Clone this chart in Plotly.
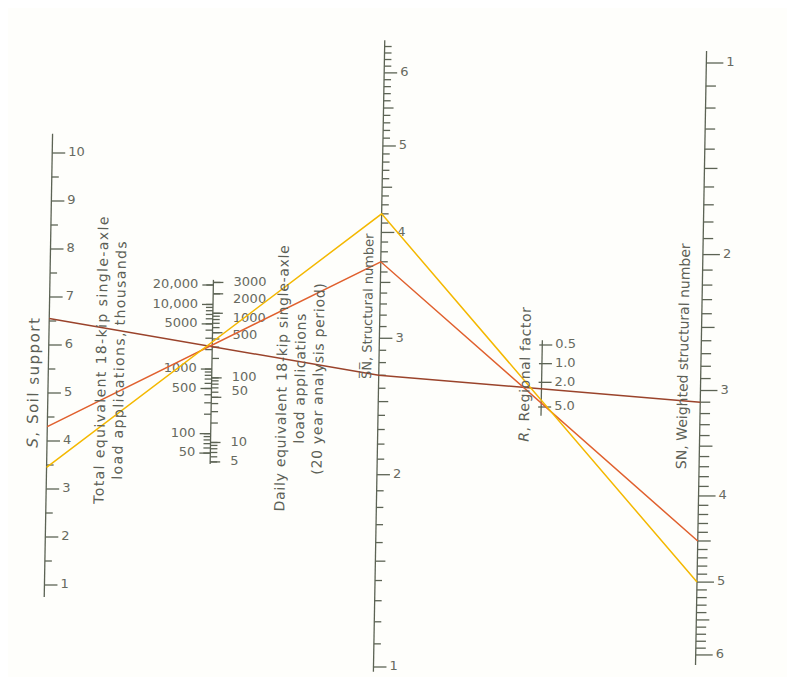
import numpy as np
import plotly.graph_objects as go

# ---- scale readings -------------------------------------------------------
S_MAJOR = [1, 2, 3, 4, 5, 6, 7, 8, 9, 10]
S_MINOR = [1.5, 2.5, 3.5, 4.5, 5.5, 6.5, 7.5, 8.5, 9.5]
S_RANGE = [0.75, 10.4]

TOTAL_LABELS = [20000, 10000, 5000, 1000, 500, 100, 50]
TOTAL_TEXT = ["20,000", "10,000", "5000", "1000", "500", "100", "50"]
DAILY_LABELS = [3000, 2000, 1000, 500, 100, 50, 10, 5]
DAILY_TEXT = ["3000", "2000", "1000", "500", "100", "50", "10", "5"]
TOTAL_RANGE = [34, 24000]

SN_MAJOR = [1, 2, 3, 4, 5, 6]
SN_RANGE = [0.98, 6.5]
WSN_MAJOR = [1, 2, 3, 4, 5, 6]
WSN_RANGE = [0.95, 6.15]

R_LABELS = [0.5, 1.0, 2.0, 5.0]
R_TEXT = ["0.5", "1.0", "2.0", "5.0"]
R_RANGE = [0.42, 6.9]

# solution lines: soil support -> structural number -> weighted SN
LINE_NAMES = ["brown", "red", "yellow"]
LINE_S = [6.55, 4.3, 3.45]
LINE_SN = [2.7, 3.7, 4.2]
LINE_WSN = [3.1, 4.5, 5.0]
LINE_COLORS = ["#9a432b", "#e0602e", "#f4b800"]

# ---- layout of the nomograph (page pixels) --------------------------------
W, H = 795, 677
PAGE_PAD = 8       # browser body margin around the plot div
SHEAR = 0.018      # scan is tilted by about one degree
YC = 360

AX_S, AX_T, AX_SN, AX_R, AX_WSN = 48.5, 212, 379, 542, 701

# the daily labels are spread a little so they do not collide
DAILY_NUDGE = {2000: 6, 1000: 5, 500: 3, 50: -6}


def sheared(x, y):
    return x + (YC - y) * SHEAR


def y_s(v):
    return 585 - (np.asarray(v, float) - 1) * 48


def y_total(v):
    return 285 + (np.log10(20000) - np.log10(np.asarray(v, float))) * 64.6


def y_daily(v):
    # daily over a 20 year period -> total, thousands
    return y_total(np.asarray(v, float) * 365 * 20 / 1000)


def y_sn(v):
    return 667 - (np.log10(np.asarray(v, float) + 1) - np.log10(2)) * 1092


def y_wsn(v):
    return 63 + (np.log10(np.asarray(v, float) + 1) - np.log10(2)) * 1088


def y_r(v):
    return 345 + (np.log10(np.asarray(v, float)) - np.log10(0.5)) * 62


AXIS_COLOR = "#5c6354"
TEXT_COLOR = "#676a60"
TICK_FONT = dict(family="DejaVu Sans", size=13, color=TEXT_COLOR)
TITLE_FONT = dict(family="DejaVu Sans", size=14, color="#5c5f56")

fig = go.Figure()


def add_segments(segs, width=1.3, color=AXIS_COLOR):
    xs, ys = [], []
    for (x0, y0, x1, y1) in segs:
        xs += [sheared(x0, y0), sheared(x1, y1), None]
        ys += [y0, y1, None]
    fig.add_trace(go.Scatter(x=xs, y=ys, mode="lines", hoverinfo="skip",
                             line=dict(color=color, width=width), showlegend=False))


def add_axis(x, ymap, vrange, ticks):
    """ticks: list of (value, x_from_offset, x_to_offset)"""
    y0, y1 = ymap(vrange[0]), ymap(vrange[1])
    segs = [(x, float(y0), x, float(y1))]
    for v, a, b in ticks:
        yy = float(ymap(v))
        segs.append((x + a, yy, x + b, yy))
    add_segments(segs)


def add_labels(x, ymap, vals, texts, pos, nudge=None):
    nudge = nudge or {}
    ys = [float(ymap(v)) + nudge.get(v, 0) for v in vals]
    xs = [sheared(x, yy) for yy in ys]
    fig.add_trace(go.Scatter(x=xs, y=ys, mode="text", text=texts,
                             textposition=pos, textfont=TICK_FONT,
                             hoverinfo="skip", showlegend=False))


def sn_ticks(lo, hi, major_len, minor_len):
    out = []
    for k in range(int(round(lo * 10)), int(round(hi * 10)) + 1):
        v = k / 10
        if k % 10 == 0:
            out.append((v, 0, major_len))
        elif k % 5 == 0:
            out.append((v, 0, minor_len + 3))
        else:
            out.append((v, 0, minor_len))
    return out


def log_minor(lo, hi):
    vals = []
    for e in range(-1, 6):
        for m in range(1, 10):
            v = m * 10 ** e
            if lo <= v <= hi:
                vals.append(v)
    return vals


# soil support
add_axis(AX_S, y_s, S_RANGE,
         [(v, 0, 13) for v in S_MAJOR] + [(v, 0, 7) for v in S_MINOR])
add_labels(AX_S + 16, y_s, S_MAJOR, [str(v) for v in S_MAJOR], "middle right")

# traffic (total on the left, daily on the right)
add_axis(AX_T, y_total, TOTAL_RANGE,
         [(v, -7, 0) for v in log_minor(50, 20000)] + [(v, -11, 0) for v in TOTAL_LABELS])
add_segments([(AX_T, float(y_daily(v)), AX_T + 7, float(y_daily(v)))
              for v in log_minor(5, 3000) if y_daily(v) > 281]
             + [(AX_T, float(y_daily(v)), AX_T + 10, float(y_daily(v)))
                for v in DAILY_LABELS])
add_labels(AX_T - 15, y_total, TOTAL_LABELS, TOTAL_TEXT, "middle left")
add_labels(AX_T + 20, y_daily, DAILY_LABELS, DAILY_TEXT, "middle right", DAILY_NUDGE)

# structural number
add_axis(AX_SN, y_sn, SN_RANGE, sn_ticks(1.0, 6.4, 13, 7))
add_labels(AX_SN + 16, y_sn, SN_MAJOR, [str(v) for v in SN_MAJOR], "middle right")

# regional factor
add_axis(AX_R, y_r, R_RANGE, [(v, -3, 10) for v in R_LABELS])
add_labels(AX_R + 13, y_r, R_LABELS, R_TEXT, "middle right")

# weighted structural number
add_axis(AX_WSN, y_wsn, WSN_RANGE, sn_ticks(1.0, 6.0, 17, 10))
add_labels(AX_WSN + 20, y_wsn, WSN_MAJOR, [str(v) for v in WSN_MAJOR], "middle right")

# solution lines
for name, s, sn, wsn, col in zip(LINE_NAMES, LINE_S, LINE_SN, LINE_WSN, LINE_COLORS):
    ys = [float(y_s(s)), float(y_sn(sn)), float(y_wsn(wsn))]
    xs = [sheared(AX_S, ys[0]), sheared(AX_SN, ys[1]), sheared(AX_WSN, ys[2])]
    fig.add_trace(go.Scatter(x=xs, y=ys, mode="lines", name=name,
                             line=dict(color=col, width=1.5), showlegend=False))

# axis titles: x, y centre, text, letter spacing (px), font size
titles = [
    (34, 382, "<i>S</i>, Soil support", 1.5, 15),
    (110, 360, "Total equivalent 18-kip single-axle<br>load applications, thousands", 1.4, 14),
    (300, 378, "Daily equivalent 18-kip single-axle<br>load applications<br>(20 year analysis period)", 0.7, 14),
    (366, 306, "S\u0305N\u0305, Structural number", 0, 13),
    (525, 374, "<i>R</i>, Regional factor", 0.6, 14),
    (683, 356, "SN, Weighted structural number", 0, 14),
]
for x, y, txt, spacing, size in titles:
    lines = ['<span style="letter-spacing:%.1fpx">%s</span>' % (spacing, ln)
             for ln in txt.split("<br>")]
    fig.add_annotation(x=sheared(x, y), y=y, text="<br>".join(lines), showarrow=False,
                       textangle=-89, font=dict(TITLE_FONT, size=size), align="center",
                       xanchor="center", yanchor="middle")

# the plot div sits inside the page margin, so the data ranges start there
fig.update_layout(
    width=W - PAGE_PAD, height=H - PAGE_PAD,
    margin=dict(l=0, r=0, t=0, b=0),
    paper_bgcolor="#fefefb",
    plot_bgcolor="#fefefb",
    xaxis=dict(range=[PAGE_PAD, W], visible=False, fixedrange=True),
    yaxis=dict(range=[H, PAGE_PAD], visible=False, fixedrange=True),
    showlegend=False,
)

fig.write_html("out.html")
